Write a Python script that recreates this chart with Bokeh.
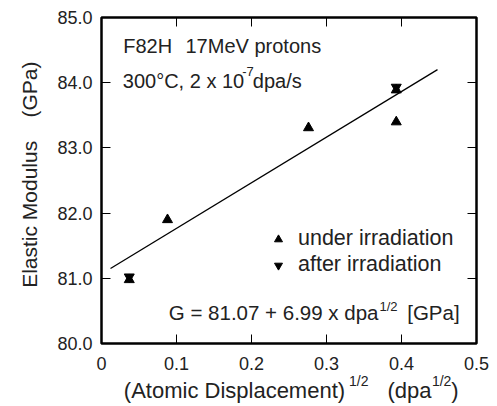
import numpy as np
from bokeh.plotting import figure
from bokeh.models import (LinearAxis, Label, Legend, LegendItem, FixedTicker,
                          Range1d, CustomJSTickFormatter)
from bokeh.transform import dodge
from bokeh.embed import file_html
from bokeh.resources import INLINE

# ---------------- data ----------------
under_x = [0.037, 0.088, 0.276, 0.393, 0.393]
under_y = [81.00, 81.92, 83.33, 83.42, 83.91]
after_x = [0.037, 0.393]
after_y = [81.00, 83.91]
fit_x = [0.012, 0.448]
fit_y = [81.15, 84.20]
x_ticks = [0.0, 0.1, 0.2, 0.3, 0.4, 0.5]
x_tick_labels = ["0", "0.1", "0.2", "0.3", "0.4", "0.5"]
y_ticks = [80, 81, 82, 83, 84, 85]
y_tick_labels = ["80.0", "81.0", "82.0", "83.0", "84.0", "85.0"]

# x-axis title pieces (anchored along the x scale) and superscripts
xtitle_at = [0.1773, 0.4107, 0.4713]
xtitle_text = ["(Atomic Displacement)", "(dpa", ")"]
xsup_at = [0.343, 0.4535]
xsup_text = ["1/2", "1/2"]
NB = "\u00a0"
ytitle = NB * 2 + "Elastic Modulus" + NB * 4 + "(GPa)"

FONT = "Liberation Sans"
TXT = "#222222"
W, H = 497, 406

p = figure(width=W, height=H, x_range=Range1d(0, 0.5), y_range=Range1d(80, 85),
           output_backend="svg", toolbar_location=None,
           x_axis_location=None, y_axis_location=None,
           min_border_left=101, min_border_right=21, min_border_top=17, min_border_bottom=63)
p.grid.visible = False
p.outline_line_color = "black"
p.outline_line_width = 2.5
p.background_fill_color = "white"
p.border_fill_color = "white"

def mk_fmt(tks, lbs):
    return CustomJSTickFormatter(args=dict(tk=tks, lb=lbs),
        code="const i = tk.findIndex(t => Math.abs(t - tick) < 1e-9); return i >= 0 ? lb[i] : '';")

def style_axis(ax, show_labels, standoff, ticks=True, size="18px"):
    ax.axis_line_color = None
    ax.major_tick_in = 9 if ticks else 0
    ax.major_tick_out = 0
    ax.major_tick_line_width = 1
    ax.major_tick_line_color = "black" if ticks else None
    ax.minor_tick_line_color = None
    ax.major_label_standoff = standoff
    ax.major_label_text_font = FONT
    ax.major_label_text_color = TXT
    ax.major_label_text_font_size = size
    if not show_labels:
        ax.major_label_text_font_size = "0px"
        ax.major_label_text_color = None
        ax.major_label_standoff = 0

xb = LinearAxis(ticker=FixedTicker(ticks=x_ticks), formatter=mk_fmt(x_ticks, x_tick_labels))
style_axis(xb, True, 13)
p.add_layout(xb, "below")

# superscripts of the x title
xs = LinearAxis(ticker=FixedTicker(ticks=xsup_at), formatter=mk_fmt(xsup_at, xsup_text))
style_axis(xs, True, 0, ticks=False, size="14px")
p.add_layout(xs, "below")

# main pieces of the x title
xm = LinearAxis(ticker=FixedTicker(ticks=xtitle_at), formatter=mk_fmt(xtitle_at, xtitle_text))
style_axis(xm, True, -14, ticks=False, size="22px")
p.add_layout(xm, "below")

xa = LinearAxis(ticker=FixedTicker(ticks=x_ticks), formatter=mk_fmt(x_ticks, x_tick_labels))
style_axis(xa, False, 0)
p.add_layout(xa, "above")

yl = LinearAxis(ticker=FixedTicker(ticks=y_ticks), formatter=mk_fmt(y_ticks, y_tick_labels),
                axis_label=ytitle)
style_axis(yl, True, 9)
yl.axis_label_text_font = FONT
yl.axis_label_text_font_size = "21px"
yl.axis_label_text_font_style = "normal"
yl.axis_label_text_color = TXT
yl.axis_label_standoff = 13
p.add_layout(yl, "left")

yr = LinearAxis(ticker=FixedTicker(ticks=y_ticks), formatter=mk_fmt(y_ticks, y_tick_labels))
style_axis(yr, False, 0)
p.add_layout(yr, "right")

# fit line
p.line(fit_x, fit_y, line_color="black", line_width=1.3)

# markers (bounding-box centred triangles like the original)
r_under = p.scatter(x="x", y=dodge("y", -0.022, range=p.y_range),
                    source=dict(x=under_x, y=under_y),
                    marker="triangle", size=10, fill_color="black", line_color="black")
r_after = p.scatter(x="x", y=dodge("y", 0.022, range=p.y_range),
                    source=dict(x=after_x, y=after_y),
                    marker="inverted_triangle", size=10, fill_color="black", line_color="black")

legend = Legend(items=[LegendItem(label="under irradiation", renderers=[r_under]),
                       LegendItem(label="after irradiation", renderers=[r_after])],
                location=(167, 66), orientation="vertical",
                glyph_width=20, glyph_height=24, label_height=24, label_width=10,
                spacing=1, padding=0, margin=0, label_standoff=10,
                label_text_font=FONT, label_text_font_size="21.5px", label_text_color=TXT,
                border_line_color=None, background_fill_alpha=0)
p.add_layout(legend, "center")

def txt(t, px, py, size):
    # px: left edge, py: vertical centre of the capitals (canvas pixels)
    p.add_layout(Label(x=px, y=py, x_units="canvas", y_units="canvas",
                       text=t, text_font=FONT, text_font_size=f"{size}px",
                       text_color=TXT, text_align="left", text_baseline="middle"))

# annotations inside the frame
txt("F82H", 122.7, 45.5, 20)
txt("17MeV protons", 185, 45.5, 20)
txt("300°C, 2 x 10", 122.3, 80.8, 20)
txt("-7", 241.7, 71, 13)
txt("dpa/s", 252.3, 80.8, 20)
txt("G = 81.07 + 6.99 x dpa", 168.3, 311.7, 20.5)
txt("1/2", 379, 306, 13)
txt("[GPa]", 406.7, 311.7, 20.5)

open("out.html", "w").write(file_html(p, INLINE))
